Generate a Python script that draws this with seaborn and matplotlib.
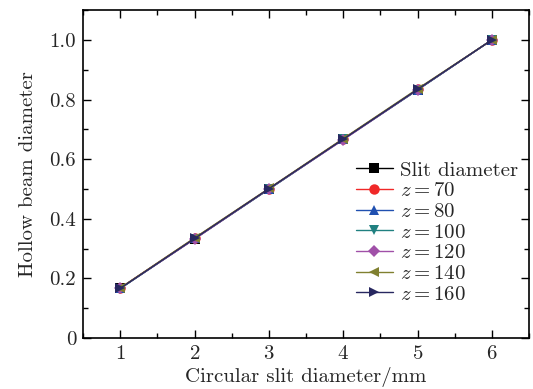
import matplotlib
matplotlib.use("Agg")
import matplotlib.pyplot as plt
import seaborn as sns
import pandas as pd
from matplotlib.ticker import MultipleLocator, FuncFormatter

# datos
slit_mm = [1, 2, 3, 4, 5, 6]
slit_diameter = [0.167, 0.333, 0.500, 0.667, 0.833, 1.000]
z70 = [0.168, 0.335, 0.501, 0.668, 0.834, 1.000]
z80 = [0.167, 0.334, 0.500, 0.667, 0.833, 1.000]
z100 = [0.166, 0.333, 0.499, 0.666, 0.832, 1.000]
z120 = [0.167, 0.332, 0.500, 0.665, 0.833, 1.000]
z140 = [0.168, 0.336, 0.502, 0.669, 0.836, 1.000]
z160 = [0.167, 0.334, 0.501, 0.667, 0.834, 1.000]

etiquetas = ["Slit diameter", "$z=70$", "$z=80$", "$z=100$", "$z=120$", "$z=140$", "$z=160$"]
series = [slit_diameter, z70, z80, z100, z120, z140, z160]
colores = ["#000000", "#f02828", "#2050b0", "#208080", "#a050a8", "#808030", "#282860"]
marcadores = ["s", "o", "^", "v", "D", "<", ">"]

sns.set_style("ticks")
plt.rcParams["font.family"] = ["serif"]
plt.rcParams["font.serif"] = ["cmr10"]
plt.rcParams["mathtext.fontset"] = "cm"
plt.rcParams["axes.formatter.use_mathtext"] = True

fs = 15
fig = plt.figure(figsize=(5.33, 3.89), dpi=100)
ax = fig.add_axes([0.156, 0.131, 0.8365, 0.843])

for etiqueta, valores, color, m in zip(etiquetas, series, colores, marcadores):
    df = pd.DataFrame({"x": slit_mm, "y": valores})
    ms = 6.5 if m == "D" else 7.5
    sns.lineplot(data=df, x="x", y="y", ax=ax, color=color, marker=m,
                 markersize=ms, markeredgewidth=0, linewidth=1.0, label=etiqueta)

ax.set_xlim(0.5, 6.5)
ax.set_ylim(0, 1.1)
ax.xaxis.set_major_locator(MultipleLocator(1))
ax.xaxis.set_minor_locator(MultipleLocator(0.5))
ax.yaxis.set_major_locator(MultipleLocator(0.2))
ax.yaxis.set_minor_locator(MultipleLocator(0.1))
ax.yaxis.set_major_formatter(FuncFormatter(lambda v, p: "0" if abs(v) < 1e-9 else f"{v:.1f}"))
ax.tick_params(which="both", direction="in", top=True, right=True, labelsize=fs, width=1.0, color="black")
ax.tick_params(which="major", length=6, pad=5)
ax.tick_params(which="minor", length=3.5)
for s in ax.spines.values():
    s.set_linewidth(1.2)
    s.set_color("black")

ax.set_xlabel("Circular slit diameter/mm", fontsize=fs, labelpad=3)
ax.set_ylabel("Hollow beam diameter", fontsize=fs, labelpad=9)

ax.legend(loc="lower right", bbox_to_anchor=(1.0, 0.073), frameon=False, fontsize=fs,
          handlelength=1.8, handletextpad=0.35, labelspacing=0.1, borderaxespad=0.1)

plt.savefig("out.png", dpi=100)
